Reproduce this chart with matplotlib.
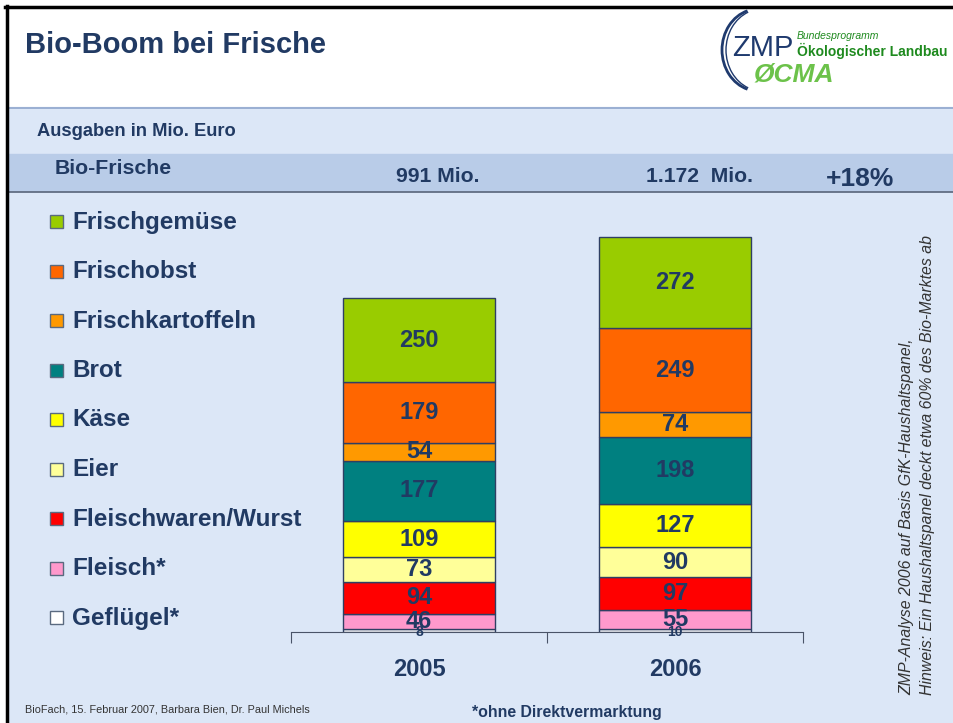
import matplotlib.pyplot as plt
from matplotlib.patches import Rectangle, Arc

plt.rcParams['font.family'] = ['Liberation Sans', 'DejaVu Sans']

# data (Ausgaben in Mio. Euro), top segment first
categories = ['Frischgemüse', 'Frischobst', 'Frischkartoffeln', 'Brot', 'Käse',
              'Eier', 'Fleischwaren/Wurst', 'Fleisch*', 'Geflügel*']
colors = ['#99CC00', '#FF6600', '#FF9900', '#008080', '#FFFF00',
          '#FFFF99', '#FF0000', '#FF99CC', '#FFFFFF']
years = ['2005', '2006']
v2005 = [250, 179, 54, 177, 109, 73, 94, 46, 8]
v2006 = [272, 249, 74, 198, 127, 90, 97, 55, 10]
totals = ['991 Mio.', '1.172  Mio.']
growth = '+18%'

navy = '#213A63'

fig = plt.figure(figsize=(9.54, 7.23), dpi=100)

# background drawn in pixel coords
bg = fig.add_axes([0, 0, 1, 1])
bg.set_xlim(0, 954)
bg.set_ylim(723, 0)
bg.axis('off')
bg.add_patch(Rectangle((0, 0), 954, 723, color='white'))
bg.add_patch(Rectangle((8, 107), 946, 616, color='#DCE7F7'))
bg.add_patch(Rectangle((8, 154), 946, 37, color='#B9CCE8'))
bg.plot([8, 954], [107.5, 107.5], color='#8EA6CC', lw=1.2)
bg.plot([8, 954], [191.5, 191.5], color='#59657A', lw=1.2)
bg.plot([5, 954], [7, 7], color='black', lw=2.5)
bg.plot([7, 7], [6, 723], color='black', lw=2.5)

bg.text(25, 45, 'Bio-Boom bei Frische', fontsize=21, fontweight='bold',
        color=navy, va='center')

# logo
bg.add_patch(Arc((758, 50), 72, 82, theta1=105, theta2=255, color='#1F3A6E', lw=2))
bg.add_patch(Arc((762, 50), 72, 82, theta1=110, theta2=250, color='#1F3A6E', lw=1))
bg.text(732, 48, 'ZMP', fontsize=21, color='#1F3A6E', va='center')
bg.text(797, 36, 'Bundesprogramm', fontsize=7.5, style='italic', color='#1E8A1E', va='center')
bg.text(797, 51, 'Ökologischer Landbau', fontsize=10, fontweight='bold', color='#1E8A1E', va='center')
bg.text(754, 75, 'ØCMA', fontsize=19, fontweight='bold', style='italic',
        color='#6CC24A', va='center')

# header band
bg.text(37, 131, 'Ausgaben in Mio. Euro', fontsize=13.2, fontweight='bold', color=navy, va='center')
bg.text(55, 169, 'Bio-Frische', fontsize=15.3, fontweight='bold', color=navy, va='center')
bg.text(396, 177, totals[0], fontsize=15.2, fontweight='bold', color=navy, va='center')
bg.text(646, 177, totals[1], fontsize=15.2, fontweight='bold', color=navy, va='center')
bg.text(826, 179, growth, fontsize=19, fontweight='bold', color=navy, va='center')

# legend
for i, (cat, col) in enumerate(zip(categories, colors)):
    y = 222 + i * 49.5
    bg.add_patch(Rectangle((50, y - 7), 13, 13, facecolor=col, edgecolor='#5A6A80', lw=1))
    bg.text(72, y, cat, fontsize=17.5, fontweight='bold', color=navy, va='center')

# side note
bg.text(907, 695, 'ZMP-Analyse 2006 auf Basis GfK-Haushaltspanel,', rotation=90,
        fontsize=11.4, style='italic', color='#333333', ha='center', va='bottom')
bg.text(928, 695, 'Hinweis: Ein Haushaltspanel deckt etwa 60% des Bio-Marktes ab', rotation=90,
        fontsize=11.4, style='italic', color='#333333', ha='center', va='bottom')

bg.text(25, 710, 'BioFach, 15. Februar 2007, Barbara Bien, Dr. Paul Michels',
        fontsize=7.8, color='#333333', va='center')
bg.text(567, 713, '*ohne Direktvermarktung', fontsize=11.4, fontweight='bold',
        color=navy, ha='center', va='center')

# chart
ax = fig.add_axes([291 / 954, (723 - 632) / 723, 512 / 954, 432 / 723])
ax.patch.set_alpha(0)
ax.set_xlim(-0.5, 1.5)
ax.set_ylim(0, 1281)

for xi, vals in enumerate([v2005, v2006]):
    bottom = 0
    for val, col in zip(reversed(vals), reversed(colors)):
        ax.bar(xi, val, bottom=bottom, width=0.594, color=col,
               edgecolor='#2F3F63', lw=1)
        if val < 20:
            # tiny segment: label sits on the baseline like in the original
            ax.text(xi, bottom, str(val), ha='center', va='center',
                    fontsize=10, fontweight='bold', color=navy, clip_on=False)
        else:
            ax.text(xi, bottom + val / 2, str(val), ha='center', va='center',
                    fontsize=17, fontweight='bold', color=navy)
        bottom += val

for s in ['top', 'right', 'left']:
    ax.spines[s].set_visible(False)
ax.spines['bottom'].set_color('#4A5468')
ax.set_yticks([])
ax.set_xticks([-0.5, 0.5, 1.5])
ax.set_xticklabels([])
ax.tick_params(axis='x', which='major', length=8, color='#4A5468')
ax.set_xticks([0, 1], minor=True)
ax.set_xticklabels(years, minor=True, fontsize=17, fontweight='bold', color=navy)
ax.tick_params(axis='x', which='minor', length=0, pad=19)

fig.savefig('out.png', dpi=100)
